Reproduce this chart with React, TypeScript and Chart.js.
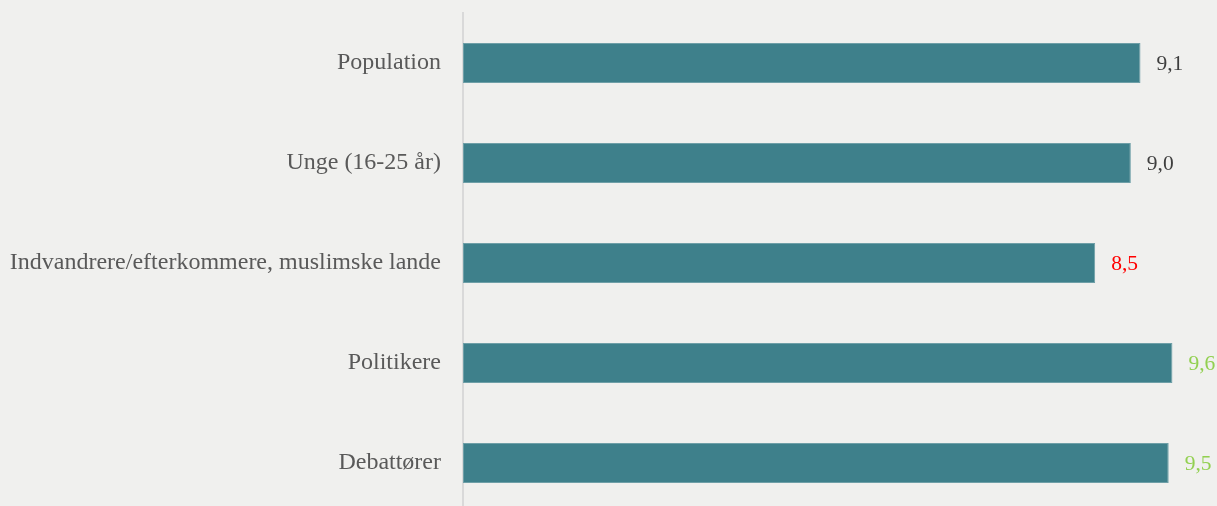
import React, { useEffect, useRef } from "react";
import { Chart, registerables } from "chart.js";

Chart.register(...registerables);

const categories = [
  "Population",
  "Unge (16-25 år)",
  "Indvandrere/efterkommere, muslimske lande",
  "Politikere",
  "Debattører",
];
const values = [9.12, 8.99, 8.51, 9.55, 9.5];

const labelColors = ["#3f3f3f", "#3f3f3f", "#ff0000", "#92d050", "#92d050"];
const BG = "#f0f0ee";

const valueLabels = {
  id: "valueLabels",
  afterDatasetsDraw(chart: any) {
    const ctx = chart.ctx;
    const meta = chart.getDatasetMeta(0);
    ctx.save();
    ctx.font = '21.5px "Liberation Serif", serif';
    ctx.textAlign = "left";
    ctx.textBaseline = "middle";
    meta.data.forEach((bar: any, i: number) => {
      const v = values[i];
      ctx.fillStyle = labelColors[i];
      ctx.fillText(v.toFixed(1).replace(".", ","), bar.x + 16, bar.y + 1);
    });
    ctx.restore();
  },
};

const bgPlugin = {
  id: "bg",
  beforeDraw(chart: any) {
    const ctx = chart.ctx;
    ctx.save();
    ctx.fillStyle = BG;
    ctx.fillRect(0, 0, chart.width, chart.height);
    ctx.restore();
  },
};

export default function App() {
  const ref = useRef<HTMLCanvasElement>(null);
  useEffect(() => {
    if (!ref.current) return;
    const chart = new Chart(ref.current, {
      type: "bar",
      data: {
        labels: categories,
        datasets: [
          {
            data: values,
            backgroundColor: "#3e808b",
            borderColor: "#6e9fa7",
            borderWidth: 1,
            borderSkipped: false,
            barPercentage: 0.4,
            categoryPercentage: 1,
          },
        ],
      },
      options: {
        indexAxis: "y",
        animation: false,
        responsive: true,
        maintainAspectRatio: false,
        layout: { padding: { top: 13, bottom: 7, left: 0, right: 0 } },
        plugins: {
          legend: { display: false },
          tooltip: { enabled: false },
          title: { display: false },
        },
        scales: {
          x: {
            display: false,
            min: 0,
            max: 10.15,
          },
          y: {
            afterFit: (scale: any) => {
              scale.width = 463;
              scale.paddingTop = 0;
              scale.paddingBottom = 0;
            },
            grid: { display: false, drawTicks: false },
            border: { display: true, color: "#d9d9d9", width: 2 },
            ticks: {
              padding: 22,
              color: "#595959",
              font: { family: '"Liberation Serif", serif', size: 24 },
            },
          },
        },
      },
      plugins: [bgPlugin, valueLabels],
    });
    return () => chart.destroy();
  }, []);

  return (
    <div
      style={{
        position: "fixed",
        left: 0,
        top: 0,
        width: 1217,
        height: 506,
        overflow: "hidden",
        background: BG,
      }}
    >
      <div style={{ position: "relative", width: 1217, height: 520 }}>
        <canvas ref={ref} />
      </div>
    </div>
  );
}
